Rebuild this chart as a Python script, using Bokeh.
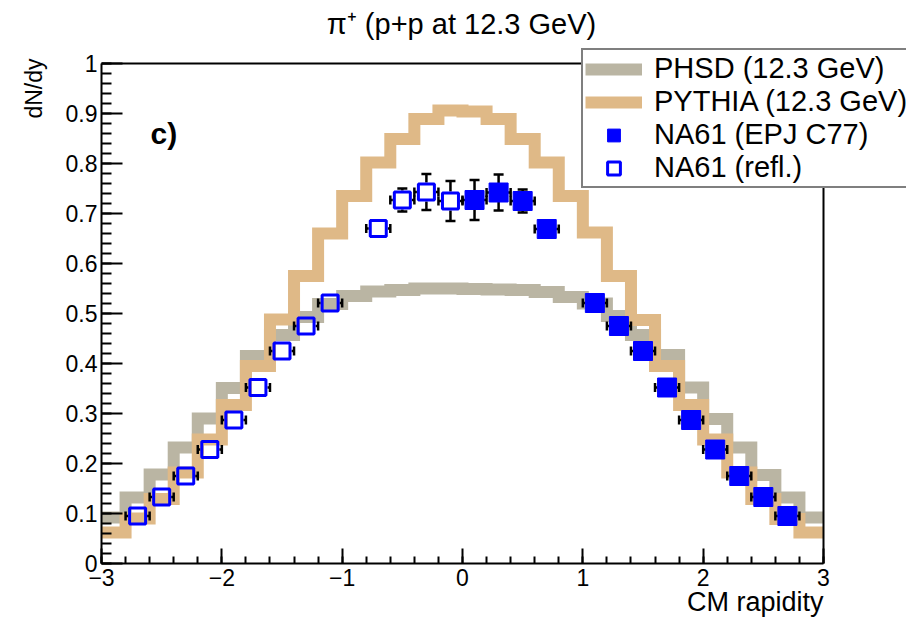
from bokeh.plotting import figure
from bokeh.models import (Range1d, SingleIntervalTicker, CustomJSTickFormatter, Label,
                          Legend, LegendItem, ColumnDataSource, Title)
from bokeh.embed import file_html
from bokeh.resources import INLINE
import math

# ---------------- data ----------------
bin_edges = [-3.0, -2.8, -2.6, -2.4, -2.2, -2.0, -1.8, -1.6, -1.4, -1.2, -1.0,
             -0.8, -0.6, -0.4, -0.2, 0.0, 0.2, 0.4, 0.6, 0.8, 1.0,
             1.2, 1.4, 1.6, 1.8, 2.0, 2.2, 2.4, 2.6, 2.8, 3.0]

phsd = [0.092, 0.132, 0.178, 0.232, 0.290, 0.351, 0.415, 0.457, 0.493, 0.519,
        0.535, 0.544, 0.547, 0.550, 0.550, 0.549, 0.548, 0.547, 0.543, 0.533,
        0.520, 0.495, 0.457, 0.417, 0.352, 0.289, 0.232, 0.177, 0.132, 0.092]

pythia = [0.062, 0.090, 0.129, 0.182, 0.248, 0.317, 0.395, 0.488, 0.575, 0.660,
          0.735, 0.802, 0.849, 0.889, 0.906, 0.904, 0.889, 0.849, 0.802, 0.735,
          0.662, 0.575, 0.487, 0.395, 0.317, 0.248, 0.182, 0.129, 0.089, 0.062]

na61_y = [0.1, 0.3, 0.5, 0.7, 1.1, 1.3, 1.5, 1.7, 1.9, 2.1, 2.3, 2.5, 2.7]
na61_dndy = [0.727, 0.742, 0.725, 0.669, 0.521, 0.475, 0.425, 0.352, 0.287,
             0.228, 0.175, 0.133, 0.095]
na61_err = [0.040, 0.036, 0.023, 0.012, 0.010, 0.009, 0.008, 0.007, 0.006,
            0.005, 0.004, 0.004, 0.003]

refl_y = [-0.1, -0.3, -0.5, -0.7, -1.1, -1.3, -1.5, -1.7, -1.9, -2.1, -2.3, -2.5, -2.7]
refl_dndy = [0.725, 0.743, 0.727, 0.670, 0.521, 0.475, 0.425, 0.352, 0.287,
             0.228, 0.175, 0.133, 0.095]
refl_err = [0.040, 0.036, 0.023, 0.012, 0.010, 0.009, 0.008, 0.007, 0.006,
            0.005, 0.004, 0.004, 0.003]

x_halfwidth = 0.1

x_ticks_major = 1
y_ticks_major = 0.1

# ---------------- layout ----------------
W, H = 906, 621
BL, BB = 101, 58            # left / bottom border (axes)
PX_RIGHT, PX_TOP = 823, 63  # pixel position of x=3 and y=1
XMIN, XMAX, YMIN, YMAX = -3, 3, 0, 1
px_x = (PX_RIGHT - BL) / (XMAX - XMIN)
px_y = ((H - BB) - PX_TOP) / (YMAX - YMIN)
# the frame covers the canvas up to its right and top edges so that the legend
# and the title (inside the frame) are not clipped
XR = XMAX + (W - PX_RIGHT) / px_x
YT = YMAX + PX_TOP / px_y

FONT = "Liberation Sans"
GRAY = "#bab5a3"
TAN = "#dfb987"
BLUE = "#0000ff"

p = figure(width=W, height=H, x_range=Range1d(XMIN, XR), y_range=Range1d(YMIN, YT),
           output_backend="svg", toolbar_location=None,
           min_border_left=BL, min_border_right=0, min_border_top=0, min_border_bottom=BB)
p.xgrid.visible = False
p.ygrid.visible = False
p.outline_line_color = None
p.background_fill_color = "white"
p.border_fill_color = "white"

xa = p.xaxis[0]
ya = p.yaxis[0]
xa.bounds = (XMIN, XMAX)
ya.bounds = (YMIN, YMAX)
xa.ticker = SingleIntervalTicker(interval=x_ticks_major, num_minor_ticks=5)
ya.ticker = SingleIntervalTicker(interval=y_ticks_major, num_minor_ticks=5)
xa.formatter = CustomJSTickFormatter(code="const v = Math.round(tick); return v < 0 ? '\u2212' + Math.abs(v) : '' + v;")
ya.formatter = CustomJSTickFormatter(code="if (Math.abs(tick) < 1e-9) return '0'; if (Math.abs(tick - 1) < 1e-9) return '1'; return tick.toFixed(1);")
for ax in (xa, ya):
    ax.axis_line_width = 2
    ax.axis_line_color = "black"
    ax.major_tick_out = 0
    ax.minor_tick_out = 0
    ax.major_tick_line_width = 2
    ax.minor_tick_line_width = 2
    ax.major_tick_line_color = "black"
    ax.minor_tick_line_color = "black"
    ax.major_label_text_font = FONT
    ax.major_label_text_font_size = "23px"
    ax.major_label_text_color = "black"
xa.major_tick_in = 15
xa.minor_tick_in = 7
xa.major_label_standoff = 5
ya.major_tick_in = 21
ya.minor_tick_in = 10
ya.major_label_standoff = 4

# ---------------- histograms ----------------
src_phsd = ColumnDataSource(dict(x=bin_edges, y=phsd + [phsd[-1]]))
src_py = ColumnDataSource(dict(x=bin_edges, y=pythia + [pythia[-1]]))
r_phsd = p.step("x", "y", source=src_phsd, mode="after", line_color=GRAY, line_width=12,
                line_join="miter", line_cap="butt")
r_py = p.step("x", "y", source=src_py, mode="after", line_color=TAN, line_width=12,
              line_join="miter", line_cap="butt")

# ---------------- error bars + markers ----------------
MS = 19  # marker side in px
gap_x = (MS / 2) / px_x
gap_y = (MS / 2) / px_y


def draw_errors(xs, ys, errs):
    hx0, hx1, hy = [], [], []
    for x, y in zip(xs, ys):
        hx0 += [x - x_halfwidth, x + gap_x]
        hx1 += [x - gap_x, x + x_halfwidth]
        hy += [y, y]
    p.segment(x0=hx0, y0=hy, x1=hx1, y1=hy, line_color="black", line_width=2.5)
    capx = [x - x_halfwidth for x in xs] + [x + x_halfwidth for x in xs]
    capy = list(ys) + list(ys)
    p.scatter(capx, capy, marker="dash", angle=math.pi / 2, size=9,
              line_color="black", line_width=2.5)
    vx, vy0, vy1, cx, cy = [], [], [], [], []
    for x, y, e in zip(xs, ys, errs):
        if e > gap_y:
            vx += [x, x]
            vy0 += [y - e, y + gap_y]
            vy1 += [y - gap_y, y + e]
            cx += [x, x]
            cy += [y - e, y + e]
    if vx:
        p.segment(x0=vx, y0=vy0, x1=vx, y1=vy1, line_color="black", line_width=2.5)
        p.scatter(cx, cy, marker="dash", size=10, line_color="black", line_width=2.5)


draw_errors(na61_y, na61_dndy, na61_err)
draw_errors(refl_y, refl_dndy, refl_err)

r_na61 = p.scatter(na61_y, na61_dndy, marker="square", size=MS, fill_color=BLUE,
                   line_color=BLUE, line_width=1)
r_refl = p.scatter(refl_y, refl_dndy, marker="square", size=MS - 3, fill_color=None,
                   line_color=BLUE, line_width=3)

# frame top and right edges (left / bottom are the axis lines)
p.segment(x0=[XMIN, XMAX], y0=[YMAX, YMIN], x1=[XMAX, XMAX], y1=[YMAX, YMAX],
          line_color="black", line_width=2)

# ---------------- texts ----------------
p.add_layout(Label(x=(XMIN + XMAX) / 2 - 1 / px_x, y=YMAX + 40 / px_y,
                   text="\u03c0\u207a (p+p at 12.3 GeV)",
                   text_align="center", text_baseline="alphabetic", text_font=FONT,
                   text_font_size="29px", text_color="black"))
p.add_layout(Label(x=XMIN + 49 / px_x, y=YMAX - 70 / px_y, text="c)",
                   text_align="left", text_baseline="alphabetic", text_font=FONT,
                   text_font_size="30px", text_font_style="bold", text_color="black"))

t_y = Title(text="dN/dy", align="right", offset=58, text_font=FONT,
            text_font_size="23px", text_font_style="normal", text_color="black")
t_x = Title(text="CM rapidity", align="right", offset=W - PX_RIGHT, text_font=FONT,
            text_font_size="27px", text_font_style="normal", text_color="black")
try:
    t_x.standoff = -8
    t_y.standoff = 32
except Exception:
    pass
p.add_layout(t_y, "left")
p.add_layout(t_x, "below")

# ---------------- legend ----------------
legend = Legend(items=[LegendItem(label="PHSD (12.3 GeV)", renderers=[r_phsd]),
                       LegendItem(label="PYTHIA (12.3 GeV)", renderers=[r_py]),
                       LegendItem(label="NA61 (EPJ C77)", renderers=[r_na61]),
                       LegendItem(label="NA61 (refl.)", renderers=[r_refl])],
                location=(480, 375), orientation="vertical")
legend.label_text_font = FONT
legend.label_text_font_size = "29px"
legend.label_text_color = "black"
legend.glyph_width = 57
legend.glyph_height = 32
legend.label_height = 32
legend.label_standoff = 12
legend.spacing = 0
legend.padding = 2
legend.margin = 0
legend.border_line_color = "black"
legend.border_line_width = 2
legend.background_fill_color = "white"
legend.background_fill_alpha = 1
p.add_layout(legend)

open("out.html", "w").write(file_html(p, INLINE))
